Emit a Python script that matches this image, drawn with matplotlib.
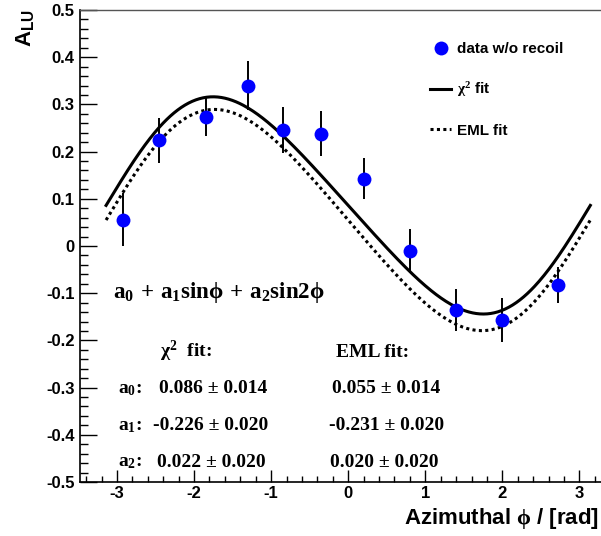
import numpy as np
import matplotlib
matplotlib.use("Agg")
import matplotlib.pyplot as plt

plt.rcParams['mathtext.fontset'] = 'custom'
plt.rcParams['mathtext.rm'] = 'Liberation Serif:bold'
plt.rcParams['mathtext.it'] = 'Liberation Serif:bold'
plt.rcParams['mathtext.bf'] = 'Liberation Serif:bold'
plt.rcParams['mathtext.sf'] = 'Liberation Sans:bold'
plt.rcParams['mathtext.fallback'] = 'stix'

# ---- data ----
phi = [-2.92, -2.45, -1.85, -1.30, -0.84, -0.35, 0.20, 0.80, 1.40, 1.99, 2.72]
alu = [0.056, 0.224, 0.274, 0.340, 0.245, 0.238, 0.143, -0.011, -0.136, -0.157, -0.082]
alu_err = [0.056, 0.048, 0.041, 0.052, 0.049, 0.048, 0.044, 0.047, 0.045, 0.046, 0.038]

chi2_pars = [0.086, -0.226, 0.022]   # a0, a1, a2
eml_pars = [0.055, -0.231, 0.020]
chi2_errs = [0.014, 0.020, 0.020]
eml_errs = [0.014, 0.020, 0.020]

xticks = [-3, -2, -1, 0, 1, 2, 3]
yticks = [-0.5, -0.4, -0.3, -0.2, -0.1, 0, 0.1, 0.2, 0.3, 0.4, 0.5]
ytick_labels = ['-0.5', '-0.4', '-0.3', '-0.2', '-0.1', '0', '0.1', '0.2', '0.3', '0.4', '0.5']

def fitfunc(x, p):
    return p[0] + p[1] * np.sin(x) + p[2] * np.sin(2 * x)

fig = plt.figure(figsize=(6.01, 5.36), dpi=100)
W, H = 601, 536
ax = fig.add_axes([80 / W, 1 - 482 / H, 521 / W, 472 / H])

xs = np.linspace(-np.pi, np.pi, 400)
l1, = ax.plot(xs, fitfunc(xs, chi2_pars), color='black', lw=2.2, label=r'$\chi^{2}$ fit')
l2, = ax.plot(xs, fitfunc(xs, eml_pars), color='black', lw=2.2, linestyle=(0, (1, 1.1)), label='EML fit')
ax.errorbar(phi, alu, yerr=alu_err, fmt='none', ecolor='black', elinewidth=1.4, capsize=0)
pts, = ax.plot(phi, alu, 'o', color='#0000ff', markersize=10, markeredgewidth=0, label='data w/o recoil', zorder=5)

ax.set_xlim(-3.48, 3.28)
ax.set_ylim(-0.5, 0.5)
ax.set_xticks(xticks)
ax.set_xticklabels([str(t) for t in xticks])
ax.set_yticks(yticks)
ax.set_yticklabels(ytick_labels)
ax.set_xticks(np.arange(-3.4, 3.3, 0.2), minor=True)
ax.set_yticks(np.arange(-0.5, 0.501, 0.02), minor=True)
ax.tick_params(axis='both', which='both', direction='in', top=False, right=False)
ax.tick_params(axis='y', which='major', length=12, width=1.0, pad=4)
ax.tick_params(axis='y', which='minor', length=6, width=1.0)
ax.tick_params(axis='x', which='major', length=9, width=1.0, pad=3)
ax.tick_params(axis='x', which='minor', length=4.5, width=1.0)
for lab in ax.get_xticklabels() + ax.get_yticklabels():
    lab.set_fontfamily('Liberation Sans')
    lab.set_fontweight('bold')
    lab.set_fontsize(12)

ax.spines['right'].set_visible(False)
ax.spines['top'].set_color('#555555')
ax.spines['top'].set_linewidth(1.0)
ax.spines['left'].set_linewidth(1.2)
ax.spines['bottom'].set_linewidth(1.2)

leg = ax.legend(handles=[pts, l1, l2], loc='upper left', bbox_to_anchor=((430 - 80) / 521, 1 - (42 - 10) / 472),
                frameon=False, borderpad=0, borderaxespad=0, labelspacing=1.6, handlelength=1.4,
                handletextpad=0.35, prop={'family': 'Liberation Sans', 'weight': 'bold', 'size': 11})

# axis titles
fig.text(25 / W, 1 - 28 / H, r'A$_{\mathsf{LU}}$', rotation=90, ha='center', va='center',
         fontfamily='Liberation Sans', fontweight='bold', fontsize=16)
fig.text(599 / W, 1 - 524 / H, r'Azimuthal $\phi$ / [rad]', ha='right', va='baseline',
         fontfamily='Liberation Sans', fontweight='bold', fontsize=16)

# annotations
serif = dict(fontfamily='Liberation Serif', fontweight='bold', va='baseline')
ax.text(-3.05, -0.1095, r'$\mathrm{a_0\,+\,a_1sin\phi\,+\,a_2sin2\phi}$', fontsize=16.5, **serif)
ax.text(-2.44, -0.2345, r'$\chi^{2}$  fit:', fontsize=14, **serif)
ax.text(-0.16, -0.2345, 'EML fit:', fontsize=14, **serif)
rows_y = [-0.312, -0.39, -0.4675]
chi_x = [-2.455, -2.537, -2.48]
eml_x = [-0.21, -0.25, -0.23]
for i in range(3):
    ax.text(-2.99, rows_y[i], r'$\mathrm{a_%d}$:' % i, fontsize=14, **serif)
    ax.text(chi_x[i], rows_y[i], '%.3f \u00b1 %.3f' % (chi2_pars[i], chi2_errs[i]), fontsize=14, **serif)
    ax.text(eml_x[i], rows_y[i], '%.3f \u00b1 %.3f' % (eml_pars[i], eml_errs[i]), fontsize=14, **serif)

fig.savefig('out.png', dpi=100)
